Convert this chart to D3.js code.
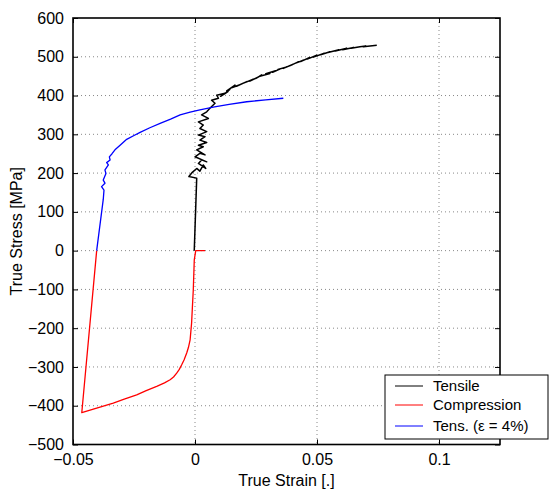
<!DOCTYPE html>
<html><head><meta charset="utf-8">
<script src="https://cdn.jsdelivr.net/npm/d3@7"></script>
<style>
body{margin:0;background:#fff;}
text{font-family:"Liberation Sans",Arial,Helvetica,sans-serif;fill:#000;}
</style></head>
<body><svg id="c" width="549" height="491"></svg>
<script>
const xTicks=[-0.05,0,0.05,0.1];
const yTicks=[-500,-400,-300,-200,-100,0,100,200,300,400,500,600];
const seriesNames=["Tensile","Compression","Tens. (ε = 4%)"];
const tensileStrain=[-0.0003,0.0007,-0.0025,-0.0011,0.0007,0.0020,0.0034,0.0044,0.0014,0.0027,0.0048,0.0000,0.0020,0.0041,0.0007,0.0034,0.0014,0.0048,0.0020,0.0041,0.0014,0.0048,0.0020,0.0034,0.0014,0.0055,0.0027,0.0048,0.0061,0.0082,0.0068,0.0096,0.0089,0.0123,0.0105,0.0135,0.0120,0.0143,0.0130,0.0164,0.0150,0.0184,0.0170,0.0212,0.0191,0.0239,0.0225,0.0260,0.0250,0.0273,0.0262,0.0307,0.0290,0.0330,0.0318,0.0348,0.0340,0.0376,0.0362,0.0400,0.0390,0.0423,0.0410,0.0444,0.0435,0.0470,0.0460,0.0499,0.0485,0.0530,0.0515,0.0553,0.0545,0.0590,0.0575,0.0622,0.0605,0.0650,0.0640,0.0676,0.0700,0.0690,0.0745];
const tensileStress=[0,187,191,202,212,205,221,212,225,234,229,242,251,247,260,268,272,279,285,294,298,307,315,324,332,341,350,358,367,380,388,393,401,406,398,410,404,416,412,427,420,428,424,436,430,442,437,448,444,453,449,457,456,464,460,468,467,474,470,480,477,487,483,491,488,498,494,504,499,509,505,513,511,518,515,522,518,524,522,526,528,526,530];
const compStrain=[0.0041,0.0003,-0.0003,-0.0007,-0.0011,-0.0014,-0.0020,-0.0027,-0.0034,-0.0045,-0.0055,-0.0065,-0.0075,-0.0088,-0.0102,-0.0125,-0.0157,-0.0200,-0.0239,-0.0290,-0.0335,-0.0403,-0.0464,-0.0403];
const compStress=[0,0,-24,-101,-150,-187,-230,-250,-264,-282,-295,-307,-316,-326,-333,-341,-350,-361,-372,-383,-393,-406,-418,0];
const blueStrain=[-0.0403,-0.0376,-0.0373,-0.0383,-0.0369,-0.0376,-0.0365,-0.0369,-0.0355,-0.0362,-0.0348,-0.0351,-0.0340,-0.0328,-0.0307,-0.0280,-0.0250,-0.0225,-0.0185,-0.0143,-0.0100,-0.0061,-0.0020,0.0020,0.0080,0.0140,0.0212,0.0290,0.0362];
const blueStress=[0,132,156,165,174,182,199,208,221,227,234,242,250,260,272,287,297,305,317,328,339,350,357,363,371,377,384,389,393];

const svg=d3.select("#c");
const L=73,R=500,T=18,B=444.5;
const x=d3.scaleLinear().domain([-0.05,0.125]).range([L,R]);
const y=d3.scaleLinear().domain([-500,600]).range([B,T]);

// grid
const g=svg.append("g");
g.selectAll(".gx").data(xTicks.filter(d=>d>-0.05)).enter().append("line")
 .attr("x1",d=>x(d)).attr("x2",d=>x(d)).attr("y1",T).attr("y2",B)
 .attr("stroke","#888").attr("stroke-width",1).attr("stroke-dasharray","1,3");
g.selectAll(".gy").data(yTicks.filter(d=>d>-500&&d<600)).enter().append("line")
 .attr("x1",L).attr("x2",R).attr("y1",d=>y(d)).attr("y2",d=>y(d))
 .attr("stroke","#888").attr("stroke-width",1).attr("stroke-dasharray","1,3");

// curves
const line=d3.line().x(d=>x(d[0])).y(d=>y(d[1]));
const series=[
 {xs:tensileStrain,ys:tensileStress,c:"#000000",w:1.5},
 {xs:compStrain,ys:compStress,c:"#ff0000",w:1.3},
 {xs:blueStrain,ys:blueStress,c:"#0000ff",w:1.3}];
series.forEach(s=>{
 svg.append("path").attr("d",line(s.xs.map((v,i)=>[v,s.ys[i]])))
  .attr("fill","none").attr("stroke",s.c).attr("stroke-width",s.w).attr("stroke-linejoin","round");
});

// axes
const ax=svg.append("g").attr("transform",`translate(0,${B})`)
 .call(d3.axisBottom(x).tickValues(xTicks).tickSizeInner(-5).tickSizeOuter(0).tickPadding(9).tickFormat(d=>d===0?"0":String(d).replace("-","\u2212")));
const axT=svg.append("g").attr("transform",`translate(0,${T})`)
 .call(d3.axisTop(x).tickValues(xTicks).tickSizeInner(-5).tickSizeOuter(0).tickFormat(""));
const ay=svg.append("g").attr("transform",`translate(${L},0)`)
 .call(d3.axisLeft(y).tickValues(yTicks).tickSizeInner(-5).tickSizeOuter(0).tickPadding(9).tickFormat(d=>String(d).replace("-","\u2212")));
const ayR=svg.append("g").attr("transform",`translate(${R},0)`)
 .call(d3.axisRight(y).tickValues(yTicks).tickSizeInner(-5).tickSizeOuter(0).tickFormat(""));
[ax,axT,ay,ayR].forEach(a=>{
 a.select(".domain").remove();
 a.selectAll("line").attr("stroke","#000").attr("stroke-width",1);
 a.selectAll("text").style("font-size","16px").attr("fill","#000");
});
svg.append("rect").attr("x",L).attr("y",T).attr("width",R-L).attr("height",B-T)
 .attr("fill","none").attr("stroke","#000").attr("stroke-width",1.6);

// labels
svg.append("text").attr("x",(L+R)/2).attr("y",486).attr("text-anchor","middle")
 .style("font-size","16px").text("True Strain [.]");
svg.append("text").attr("transform",`translate(22,${(T+B)/2}) rotate(-90)`).attr("text-anchor","middle")
 .style("font-size","16px").text("True Stress [MPa]");

// legend
const lg=svg.append("g");
lg.append("rect").attr("x",385).attr("y",375).attr("width",163).attr("height",64)
 .attr("fill","#fff").attr("stroke","#000").attr("stroke-width",1);
const legY=[386,405,426];
series.forEach((s,i)=>{
 lg.append("line").attr("x1",395).attr("x2",423).attr("y1",legY[i]).attr("y2",legY[i])
  .attr("stroke",s.c).attr("stroke-width",1);
 lg.append("text").attr("x",433).attr("y",legY[i]).attr("dy","0.35em")
  .style("font-size","15px").text(seriesNames[i]);
});
</script></body></html>
